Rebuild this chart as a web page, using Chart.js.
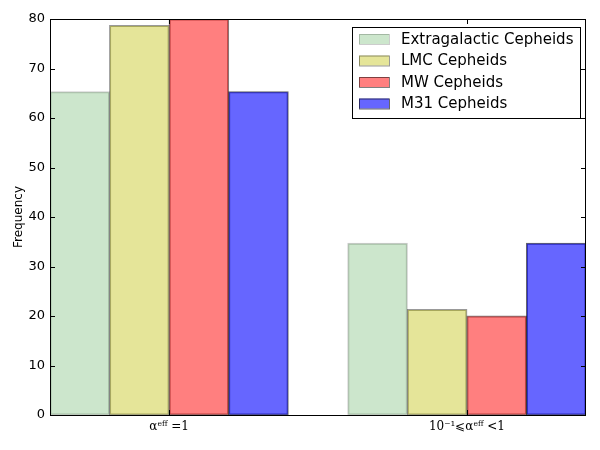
<!DOCTYPE html>
<html>
<head>
<meta charset="utf-8">
<script src="https://cdn.jsdelivr.net/npm/chart.js@4.4.1/dist/chart.umd.min.js"></script>
<style>
  html, body { margin: 0; padding: 0; background: #fff; }
  #wrap { width: 600px; height: 450px; }
</style>
</head>
<body>
<div id="wrap"><canvas id="chart"></canvas></div>
<script>
// ─── Data ──────────────────────────────────────────────────────────────────
const categories = ['αᵉᶠᶠ =1', '10⁻¹⩽αᵉᶠᶠ <1'];
const seriesNames = ['Extragalactic Cepheids', 'LMC Cepheids', 'MW Cepheids', 'M31 Cepheids'];
const extragalactic = [65.3, 34.7];
const lmc = [78.7, 21.3];
const mw = [80.0, 20.0];
const m31 = [65.3, 34.7];
const yTicks = [0, 10, 20, 30, 40, 50, 60, 70, 80];

const fills = ['rgba(0,128,0,0.2)', 'rgba(191,191,0,0.4)', 'rgba(255,0,0,0.5)', 'rgba(0,0,255,0.6)'];
const edges = ['rgba(0,0,0,0.2)', 'rgba(0,0,0,0.4)', 'rgba(0,0,0,0.5)', 'rgba(0,0,0,0.6)'];

// Each group holds 4 bars side by side, one empty slot between groups
const SLOTS = seriesNames.length + 1;
const groupCenter = g => g * SLOTS + seriesNames.length / 2;

function buildDataset(i, values) {
  return {
    label: seriesNames[i],
    data: values.map((v, g) => ({ x: g * SLOTS + i + 0.5, y: v })),
    backgroundColor: fills[i],
    borderColor: edges[i],
    borderWidth: 1,
    borderSkipped: false,
    inflateAmount: 0.5,
    grouped: false,
    barPercentage: 1,
    categoryPercentage: 1,
  };
}

// Frame, inward ticks and legend box (matplotlib classic look)
const framePlugin = {
  id: 'frame',
  afterDraw(chart) {
    const { ctx, chartArea: a, scales: { x, y } } = chart;
    ctx.save();
    ctx.strokeStyle = '#000';
    ctx.lineWidth = 1;
    ctx.strokeRect(a.left + 0.5, a.top + 0.5, a.right - a.left - 1, a.bottom - a.top);
    const len = 5;
    ctx.beginPath();
    yTicks.forEach(v => {
      const py = Math.round(y.getPixelForValue(v)) + 0.5;
      ctx.moveTo(a.left, py); ctx.lineTo(a.left + len, py);
      ctx.moveTo(a.right, py); ctx.lineTo(a.right - len, py);
    });
    categories.forEach((c, g) => {
      const px = Math.round(x.getPixelForValue(groupCenter(g))) + 0.5;
      ctx.moveTo(px, a.bottom); ctx.lineTo(px, a.bottom - len);
      ctx.moveTo(px, a.top); ctx.lineTo(px, a.top + len);
    });
    ctx.stroke();

    // legend
    const bx = 352, by = 27, bw = 228, bh = 91;
    ctx.fillStyle = '#fff';
    ctx.fillRect(bx, by, bw, bh);
    ctx.strokeStyle = '#000';
    ctx.strokeRect(bx + 0.5, by + 0.5, bw, bh);
    ctx.font = '15px "DejaVu Sans"';
    ctx.textBaseline = 'middle';
    chart.data.datasets.forEach((ds, i) => {
      const ry = by + 12 + i * 21.5;
      ctx.fillStyle = ds.backgroundColor;
      ctx.fillRect(bx + 7, ry - 5, 30, 10);
      ctx.strokeStyle = ds.borderColor;
      ctx.strokeRect(bx + 7.5, ry - 4.5, 30, 10);
      ctx.fillStyle = '#000';
      ctx.fillText(ds.label, bx + 49, ry + 1);
    });
    ctx.restore();
  }
};

new Chart(document.getElementById('chart'), {
  type: 'bar',
  data: {
    datasets: [
      buildDataset(0, extragalactic),
      buildDataset(1, lmc),
      buildDataset(2, mw),
      buildDataset(3, m31),
    ],
  },
  options: {
    responsive: true,
    maintainAspectRatio: false,
    animation: false,
    layout: { padding: { top: 19, right: 14, left: 0, bottom: 0 } },
    plugins: {
      legend: { display: false },
      tooltip: { enabled: false },
    },
    scales: {
      x: {
        type: 'linear',
        min: 0,
        max: SLOTS * categories.length - 1,
        offset: false,
        grid: { display: false, drawTicks: false, offset: false },
        border: { display: false },
        afterBuildTicks: s => { s.ticks = categories.map((c, g) => ({ value: groupCenter(g) })); },
        afterFit: s => { s.height = 35; },
        ticks: {
          padding: 5,
          maxRotation: 0,
          autoSkip: false,
          color: '#000',
          font: { family: '"DejaVu Serif"', size: 12 },
          callback: (v) => categories[Math.round((v - groupCenter(0)) / SLOTS)],
        },
      },
      y: {
        min: 0,
        max: 80,
        grid: { display: false, drawTicks: false },
        border: { display: false },
        afterBuildTicks: s => { s.ticks = yTicks.map(v => ({ value: v })); },
        afterFit: s => { s.width = 50; },
        ticks: {
          padding: 5,
          color: '#000',
          font: { family: '"DejaVu Sans"', size: 13 },
        },
        title: {
          display: true,
          text: 'Frequency',
          color: '#000',
          padding: { top: 12, bottom: 0 },
          font: { family: '"DejaVu Sans"', size: 12 },
        },
      },
    },
  },
  plugins: [framePlugin],
});
</script>
</body>
</html>
